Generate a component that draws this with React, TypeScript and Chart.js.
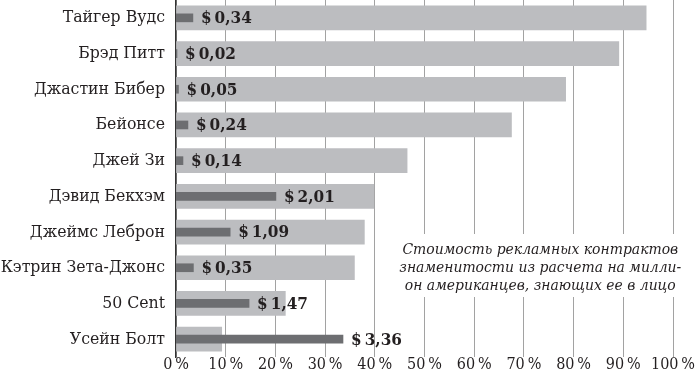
import React, { useEffect, useRef } from "react";
import { Chart, registerables } from "chart.js";

Chart.register(...registerables);

const categories = [
  "Тайгер Вудс",
  "Брэд Питт",
  "Джастин Бибер",
  "Бейонсе",
  "Джей Зи",
  "Дэвид Бекхэм",
  "Джеймс Леброн",
  "Кэтрин Зета-Джонс",
  "50 Cent",
  "Усейн Болт",
];
// share of Americans who recognise the celebrity, %
const recognition = [94.6, 89.1, 78.4, 67.5, 46.5, 39.8, 37.9, 35.9, 22.0, 9.2];
// endorsement cost per million Americans who recognise them, $
const costPerMillion = [0.34, 0.02, 0.05, 0.24, 0.14, 2.01, 1.09, 0.35, 1.47, 3.36];
const tickLabels = ["0\u2009%", "10\u2009%", "20\u2009%", "30\u2009%", "40\u2009%", "50\u2009%", "60\u2009%", "70\u2009%", "80\u2009%", "90\u2009%", "100\u2009%"];
const noteLines = [
  "Стоимость рекламных контрактов",
  "знаменитости из расчета на милли-",
  "он американцев, знающих ее в лицо",
];

const SERIF = "'DejaVu Serif Condensed', 'Liberation Serif', serif";
const TEXT = "#231f20";

const valueLabels = {
  id: "valueLabels",
  afterDatasetsDraw(chart: any) {
    const meta = chart.getDatasetMeta(1);
    const ctx = chart.ctx;
    ctx.save();
    ctx.font = `bold 17px ${SERIF}`;
    ctx.fillStyle = TEXT;
    ctx.textAlign = "left";
    ctx.textBaseline = "middle";
    meta.data.forEach((el: any, i: number) => {
      const txt = "$\u2009" + costPerMillion[i].toFixed(2).replace(".", ",");
      ctx.fillText(txt, el.x + 8, el.y + 1);
    });
    ctx.restore();
  },
};

const notePlugin = {
  id: "note",
  afterDraw(chart: any) {
    const ctx = chart.ctx;
    const xs = chart.scales.x;
    const left = xs.getPixelForValue(45);
    const right = xs.getPixelForValue(104);
    const top = 234;
    const bottom = 297;
    ctx.save();
    ctx.fillStyle = "#ffffff";
    ctx.fillRect(left, top, right - left, bottom - top);
    ctx.fillStyle = TEXT;
    ctx.font = `italic 15.5px ${SERIF}`;
    ctx.textAlign = "center";
    ctx.textBaseline = "middle";
    const cx = xs.getPixelForValue(73.3);
    noteLines.forEach((line, i) => {
      ctx.fillText(line, cx, 250 + i * 18);
    });
    ctx.restore();
  },
};

export default function App() {
  const ref = useRef<HTMLCanvasElement>(null);
  useEffect(() => {
    document.body.style.margin = "0";
    const chart = new Chart(ref.current!, {
      type: "bar",
      data: {
        labels: categories,
        datasets: [
          {
            label: "Узнаваемость",
            data: recognition,
            backgroundColor: "#bcbdc0",
            barThickness: 24,
            grouped: false,
            order: 2,
            xAxisID: "x",
          } as any,
          {
            label: "Стоимость",
            data: costPerMillion,
            backgroundColor: "#6d6e71",
            barThickness: 8,
            grouped: false,
            order: 1,
            xAxisID: "x2",
          } as any,
        ],
      },
      options: {
        indexAxis: "y",
        animation: false,
        responsive: false,
        devicePixelRatio: 1,
        layout: { padding: { top: 0, right: 27, bottom: 0, left: 0 } },
        plugins: { legend: { display: false }, tooltip: { enabled: false } },
        scales: {
          x: {
            min: 0,
            max: 100,
            position: "bottom",
            afterFit: (s: any) => {
              s.height = 16;
              s.paddingTop = 0;
              s.paddingBottom = 0;
            },
            ticks: {
              stepSize: 10,
              padding: 0,
              color: TEXT,
              font: { family: SERIF, size: 16, lineHeight: 1 },
              callback: (_v: any, i: number) => tickLabels[i],
              maxRotation: 0,
            },
            grid: { color: "#a2a2a2", lineWidth: 1, drawTicks: false },
            border: { display: false },
          },
          x2: {
            min: 0,
            max: 10,
            display: false,
          },
          y: {
            afterFit: (s: any) => {
              s.width = 176;
              s.paddingTop = 0;
              s.paddingBottom = 0;
            },
            ticks: {
              padding: 11,
              color: TEXT,
              font: { family: SERIF, size: 17.5 },
            },
            grid: { display: false, drawTicks: false },
            border: { display: true, color: "#333333", width: 1.5 },
          },
        },
      },
      plugins: [valueLabels, notePlugin],
    } as any);
    return () => chart.destroy();
  }, []);
  return (
    <div style={{ position: "absolute", left: 0, top: 0, width: 700, height: 373 }}>
      <canvas ref={ref} width={700} height={373} />
    </div>
  );
}
